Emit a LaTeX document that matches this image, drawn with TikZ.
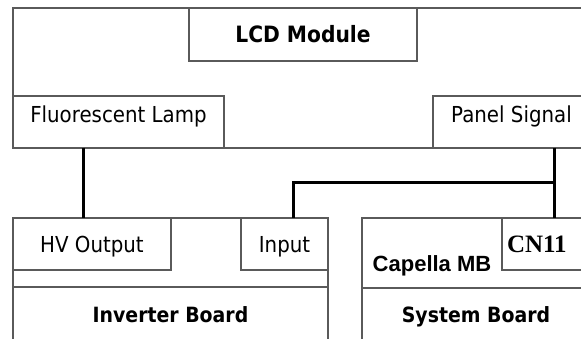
\documentclass[tikz,border=0pt]{standalone}
\usepackage{fontspec}
\setmainfont{DejaVu Sans}[FakeStretch=0.9]
\newfontfamily\capfont{Liberation Sans}
\newfontfamily\cnfont{Liberation Serif}
\usetikzlibrary{positioning}
\definecolor{edgegray}{HTML}{5A5A5A}

\begin{document}
\begin{tikzpicture}[
  x=1pt, y=-1pt,
  font=\fontsize{22}{26}\selectfont,
  part/.style={draw=edgegray, line width=1.6pt, inner sep=0pt, outer sep=0pt, anchor=north west},
  title/.style={font=\fontsize{21}{25}\selectfont\bfseries},
  slot/.style={part, minimum height=52pt, text height=34pt, text depth=18pt},
  wire/.style={line width=3pt, black}
]
\useasboundingbox (0,0) rectangle (581,339);
\clip (0,0) rectangle (581,339);

\node[part, minimum width=577pt, minimum height=140pt] (lcd) at (13,8) {};
\node[part, title, font=\fontsize{22.5}{26}\selectfont\bfseries, minimum width=228pt, minimum height=53pt, text height=35pt, text depth=18pt] (lcdname) at (189,8) {LCD Module};
\node[part, minimum width=211pt, minimum height=52pt, text height=27pt, text depth=25pt] (lamp) at (13,96) {Fluorescent Lamp};
\node[part, minimum width=157pt, minimum height=52pt, text height=27pt, text depth=25pt] (panel) at (433,96) {Panel Signal};

\node[part, minimum width=315pt, minimum height=142pt] (inverter) at (13,218) {};
\node[slot, minimum width=158pt] (hv) at (13,218) {HV Output};
\node[slot, minimum width=87pt] (input) at (241,218) {Input};
\node[part, title, minimum width=315pt, minimum height=73pt, text height=35pt, text depth=38pt] (invname) at (13,287) {Inverter Board};

\node[part, minimum width=228pt, minimum height=142pt] (system) at (362,218) {};
\node[slot, minimum width=88pt, text width=78pt, align=left, font=\cnfont\fontsize{25}{29}\selectfont\bfseries] (cn) at (502,218) {CN11};
\node[anchor=base, inner sep=0pt, font=\capfont\fontsize{22}{26}\selectfont\bfseries] (capella) at (432,271) {Capella MB};
\node[part, title, minimum width=228pt, minimum height=72pt, text height=34pt, text depth=38pt] (sysname) at (362,288) {System Board};

\coordinate (tap) at (554,183);
\draw[wire] ([xshift=70pt]lamp.south west) -- ([xshift=70pt]hv.north west);
\draw[wire] ([xshift=121pt]panel.south west) -- ([xshift=52pt]cn.north west);
\draw[wire] ([xshift=52pt]input.north west) |- (tap);
\end{tikzpicture}
\end{document}
